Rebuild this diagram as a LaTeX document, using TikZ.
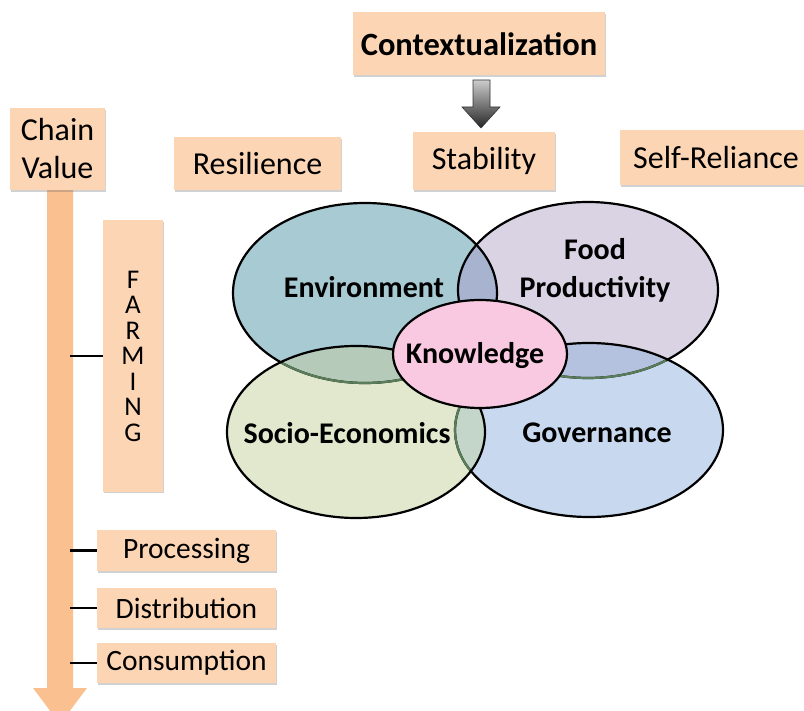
\documentclass[tikz,border=0pt]{standalone}
\usepackage{fontspec}
\setmainfont{Carlito}
\usetikzlibrary{shadows}
\definecolor{peach}{HTML}{FCD5B5}
\definecolor{arroworange}{HTML}{FAC090}
\definecolor{envc}{HTML}{A7CAD3}
\definecolor{foodc}{HTML}{D9D3E4}
\definecolor{govc}{HTML}{C8D9EF}
\definecolor{socc}{HTML}{E1E8CE}
\definecolor{knowc}{HTML}{F8C9E0}
\definecolor{efc}{HTML}{A8B3D0}
\definecolor{esc}{HTML}{B5CAB9}
\definecolor{fgc}{HTML}{B5C2DF}
\definecolor{sgc}{HTML}{C4D5CA}
\begin{document}
\begin{tikzpicture}[x=1pt,y=-1pt,
  box/.style={fill=peach, inner sep=0pt, align=center,
    drop shadow={shadow xshift=1.2pt,shadow yshift=-1.8pt,opacity=0.3,fill=black!60},
    font=\fontsize{29.5}{36}\selectfont},
  bigtext/.style={font=\fontsize{32}{38}\selectfont},
  vlabel/.style={font=\fontsize{30}{38}\selectfont\bfseries, align=center, inner sep=0pt},
  ring/.style={draw=black, line width=2.2pt},
  underring/.style={draw=black!55!green!30!gray, line width=2.2pt},
  tick/.style={draw=black, line width=2.4pt}]
\useasboundingbox (0,0) rectangle (804,711);

% value chain arrow
\fill[arroworange] (47,190) -- (73,190) -- (73,688) -- (87,688) -- (60,724) -- (33,688) -- (47,688) -- cycle;
\coordinate (armR) at (70,0);

% boxes
\node[box, minimum width=252pt, minimum height=63pt, font=\fontsize{32.5}{38}\selectfont\bfseries] (ctx) at (479,44) {Contextualization};
\node[box, bigtext, minimum width=95pt, minimum height=82pt] (chain) at (57.5,149) {Chain\\Value};
\node[box, bigtext, minimum width=167pt, minimum height=53pt] (resil) at (257.5,164) {Resilience};
\node[box, bigtext, minimum width=142pt, minimum height=58pt] (stab) at (484,161) {Stability};
\node[box, bigtext, minimum width=192pt, minimum height=55pt] (self) at (716,157.5) {Self-Reliance};
\node[box, minimum width=60pt, minimum height=271pt, font=\fontsize{27}{25.5}\selectfont] (farm) at (133,356) {F\\A\\R\\M\\I\\N\\G};
\node[box, minimum width=179pt, minimum height=41pt] (proc) at (186.5,550.5) {Processing};
\node[box, minimum width=179pt, minimum height=40pt] (dist) at (186.5,608) {Distribution};
\node[box, minimum width=179pt, minimum height=40pt] (cons) at (186.5,663) {Consumption};

% ticks
\draw[tick] (farm.west) -- (farm.west -| armR);
\draw[tick] (proc.west) -- (proc.west -| armR);
\draw[tick] (dist.west) -- (dist.west -| armR);
\draw[tick] (cons.west) -- (cons.west -| armR);

% gray arrow
\shade[top color=black!20, bottom color=black!85, draw=black!80, line width=0.6pt]
  (473,80) -- (490,80) -- (490,107) -- (500,107) -- (481,128) -- (462,107) -- (473,107) -- cycle;

% ellipses fills
\fill[envc] (365,293) ellipse [x radius=132pt, y radius=90pt];
\fill[foodc] (588,290) ellipse [x radius=130pt, y radius=88pt];
\fill[govc] (589,430) ellipse [x radius=134pt, y radius=87pt];
\fill[socc] (356,432) ellipse [x radius=129pt, y radius=86pt];
% overlaps
\begin{scope}
  \clip (365,293) ellipse [x radius=132pt, y radius=90pt];
  \fill[efc] (588,290) ellipse [x radius=130pt, y radius=88pt];
  \fill[esc] (356,432) ellipse [x radius=129pt, y radius=86pt];
\end{scope}
\begin{scope}
  \clip (588,290) ellipse [x radius=130pt, y radius=88pt];
  \fill[fgc] (589,430) ellipse [x radius=134pt, y radius=87pt];
\end{scope}
\begin{scope}
  \clip (356,432) ellipse [x radius=129pt, y radius=86pt];
  \fill[sgc] (589,430) ellipse [x radius=134pt, y radius=87pt];
\end{scope}
% outlines
\draw[ring] (365,293) ellipse [x radius=132pt, y radius=90pt];
\draw[ring] (588,290) ellipse [x radius=130pt, y radius=88pt];
\draw[ring] (589,430) ellipse [x radius=134pt, y radius=87pt];
\draw[ring] (356,432) ellipse [x radius=129pt, y radius=86pt];
% lines seen through the overlapping sets
\begin{scope}
  \clip (356,432) ellipse [x radius=127.5pt, y radius=84.5pt];
  \draw[underring] (365,293) ellipse [x radius=132pt, y radius=90pt];
  \draw[underring] (589,430) ellipse [x radius=134pt, y radius=87pt];
\end{scope}
\begin{scope}
  \clip (589,430) ellipse [x radius=132.5pt, y radius=85.5pt];
  \draw[underring] (588,290) ellipse [x radius=130pt, y radius=88pt];
\end{scope}
% knowledge
\draw[ring, fill=knowc] (480,354) ellipse [x radius=87pt, y radius=54pt];

% labels
\node[vlabel] (envl) at (364,287) {Environment};
\node[vlabel] (foodl) at (595,270) {Food\\Productivity};
\node[vlabel] (socl) at (347,433) {Socio-Economics};
\node[vlabel] (govl) at (597,433) {Governance};
\node[vlabel] (knowl) at (475,356) {Knowledge};
\end{tikzpicture}
\end{document}
